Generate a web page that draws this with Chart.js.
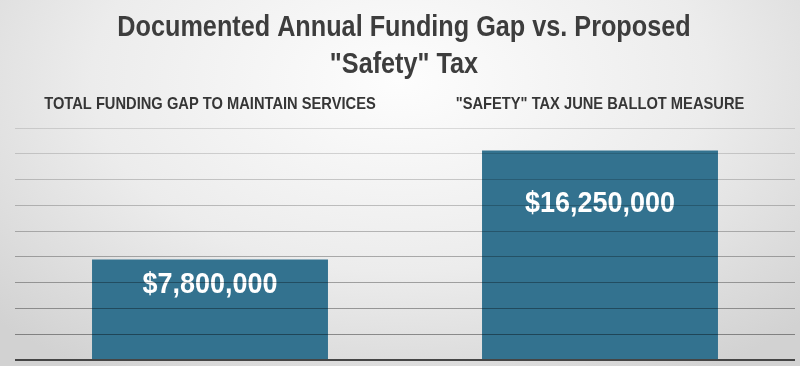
<!DOCTYPE html>
<html>
<head>
<meta charset="utf-8">
<script src="https://cdn.jsdelivr.net/npm/chart.js@4/dist/chart.umd.min.js"></script>
<style>
  html, body { margin: 0; padding: 0; }
  body {
    width: 800px; height: 366px; overflow: hidden;
    background: radial-gradient(ellipse 70% 95% at 50% 22%, #fdfdfd 0%, #ececec 55%, #d2d2d2 100%);
  }
  #wrap { position: relative; width: 800px; height: 366px; }
</style>
</head>
<body>
<div id="wrap"><canvas id="gapChart"></canvas></div>
<script>
const categories = ['TOTAL FUNDING GAP TO MAINTAIN SERVICES', '"SAFETY" TAX JUNE BALLOT MEASURE'];
const amounts = [7800000, 16250000];
const valueLabels = ['$7,800,000', '$16,250,000'];
const titleLines = ['Documented Annual Funding Gap vs. Proposed', '"Safety" Tax'];

const ctx = document.getElementById('gapChart').getContext('2d');

// no narrow font installed, so squeeze the text horizontally
function narrowText(c, text, x, y, squeeze) {
    c.save();
    c.translate(x, y);
    c.scale(squeeze, 1);
    c.fillText(text, 0, 0);
    c.restore();
}

// two-line condensed heading
const narrowTitle = {
    id: 'narrowTitle',
    afterDraw(chart, args, opts) {
        const c = chart.ctx;
        c.save();
        c.font = 'bold 29px "Liberation Sans", Arial, sans-serif';
        c.fillStyle = '#3d3d3d';
        c.textAlign = 'center';
        c.textBaseline = 'middle';
        titleLines.forEach((line, i) => {
            narrowText(c, line, chart.width / 2 + 4, opts.top + i * opts.step, 0.87);
        });
        c.restore();
    }
};

// category names above the plot, centred over each bar
const topLabels = {
    id: 'topLabels',
    afterDraw(chart, args, opts) {
        const c = chart.ctx;
        const x = chart.scales.x;
        c.save();
        c.font = 'bold 16.5px "Liberation Sans", Arial, sans-serif';
        c.fillStyle = '#363636';
        c.textAlign = 'center';
        c.textBaseline = 'middle';
        categories.forEach((name, i) => {
            narrowText(c, name, x.getPixelForValue(i), opts.y, 0.89);
        });
        c.restore();
    }
};

// white amounts inside each bar, about a quarter of the way down
const barValues = {
    id: 'barValues',
    afterDatasetsDraw(chart) {
        const c = chart.ctx;
        const x = chart.scales.x;
        const y = chart.scales.y;
        c.save();
        c.font = 'bold 29px "Liberation Sans", Arial, sans-serif';
        c.fillStyle = '#ffffff';
        c.textAlign = 'center';
        c.textBaseline = 'middle';
        amounts.forEach((v, i) => {
            narrowText(c, valueLabels[i], x.getPixelForValue(i), y.getPixelForValue(v * 0.745), 0.93);
        });
        c.restore();
    }
};

const myChart = new Chart(ctx, {
    type: 'bar',
    data: {
        labels: categories,
        datasets: [{
            data: amounts,
            backgroundColor: '#33728f',
            borderWidth: 0,
            categoryPercentage: 1,
            barPercentage: 0.605
        }]
    },
    options: {
        responsive: true,
        maintainAspectRatio: false,
        animation: false,
        layout: { padding: { top: 128, left: 15, right: 5, bottom: 6 } },
        scales: {
            x: { display: false },
            y: {
                min: 0,
                max: 18000000,
                ticks: { display: false, stepSize: 2000000 },
                border: { display: false },
                grid: {
                    z: 1,
                    drawTicks: false,
                    color: (c) => {
                        if (c.tick && c.tick.value === 0) return '#454545';
                        const t = c.index / 9;
                        return `rgba(0,0,0,${(0.42 - 0.3 * t).toFixed(2)})`;
                    },
                    lineWidth: (c) => (c.tick && c.tick.value === 0 ? 2 : 1)
                }
            }
        },
        plugins: {
            legend: { display: false },
            tooltip: { enabled: false },
            title: { display: false },
            narrowTitle: { top: 28, step: 37 },
            topLabels: { y: 104 }
        }
    },
    plugins: [narrowTitle, topLabels, barValues]
});
</script>
</body>
</html>
